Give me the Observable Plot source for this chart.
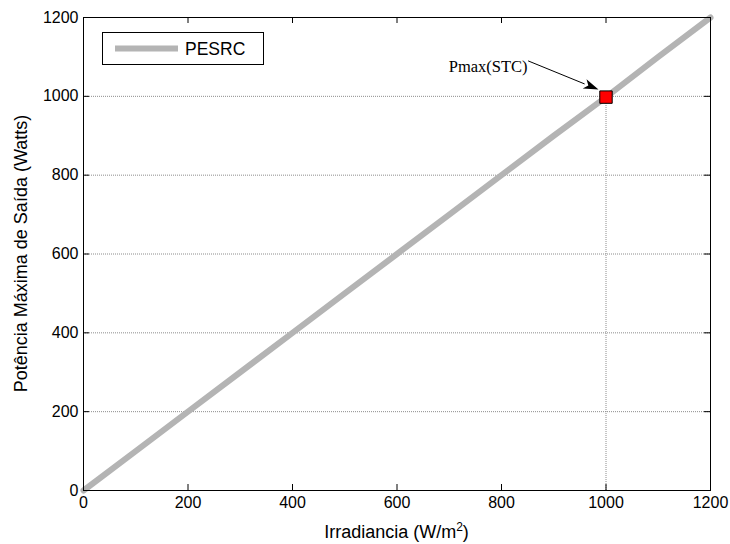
<!DOCTYPE html>
<html>
<head>
<meta charset="utf-8">
<script src="https://cdn.jsdelivr.net/npm/d3@7"></script>
<script src="https://cdn.jsdelivr.net/npm/@observablehq/plot@0.6"></script>
<style>
  html, body { margin: 0; padding: 0; background: #fff; }
  #chart { width: 730px; height: 544px; }
  svg { font-family: Arial, "Liberation Sans", sans-serif; }
</style>
</head>
<body>
<div id="chart"></div>
<script>
// Data
const irradiance = [0, 100, 200, 300, 340, 400, 500, 600, 700, 800, 900, 1000, 1100, 1200];
const power      = [0, 100, 200, 300, 340, 400, 500, 600, 700, 800, 900, 998, 1100, 1200];
const xTicks = [0, 200, 400, 600, 800, 1000, 1200];
const yTicks = [0, 200, 400, 600, 800, 1000, 1200];
const gridTicks = [200, 400, 600, 800, 1000];
const seriesName = "PESRC";
const stcPoint = [{x: 1000, y: 998}];
const annotationLabel = "Pmax(STC)";
const annotationText = [{x: 850, y: 1076}];
const xLabelParts = ["Irradiancia (W/m", "2", ")"];
const yLabel = "Potência Máxima de Saída (Watts)";

const data = irradiance.map((x, i) => ({x, y: power[i]}));
const plain = d => String(d);
const TK = 6;
const W = 730, H = 544, ML = 83, MR = 20, MT = 17, MB = 54;
const FW = W - ML - MR, FH = H - MT - MB;

const chart = Plot.plot({
  width: W,
  height: H,
  marginLeft: ML,
  marginRight: MR,
  marginTop: MT,
  marginBottom: MB,
  style: {fontSize: "16px", fontFamily: "Arial, 'Liberation Sans', sans-serif", color: "#000", background: "#fff"},
  x: {domain: [0, 1200]},
  y: {domain: [0, 1200]},
  marks: [
    Plot.ruleY(gridTicks, {stroke: "#8c8c8c", strokeWidth: 1, strokeDasharray: "1,1"}),
    Plot.ruleX(stcPoint, {x: "x", y1: 0, y2: "y", stroke: "#8c8c8c", strokeWidth: 1, strokeDasharray: "1,1"}),
    Plot.line(data, {x: "x", y: "y", stroke: "#b4b4b4", strokeWidth: 6}),
    Plot.frame({stroke: "#000", strokeWidth: 1}),
    // inward ticks
    Plot.tickX(xTicks, {x: d => d, insetTop: FH - TK, stroke: "#000", strokeWidth: 1}),
    Plot.tickX(xTicks, {x: d => d, insetBottom: FH - TK, stroke: "#000", strokeWidth: 1}),
    Plot.tickY(yTicks, {y: d => d, insetRight: FW - TK, stroke: "#000", strokeWidth: 1}),
    Plot.tickY(yTicks, {y: d => d, insetLeft: FW - TK, stroke: "#000", strokeWidth: 1}),
    Plot.axisX(xTicks, {anchor: "bottom", tickSize: 0, tickPadding: 6, tickFormat: plain, label: null, fontSize: 16}),
    Plot.axisY(yTicks, {anchor: "left", tickSize: 0, tickPadding: 5, tickFormat: plain, label: null, fontSize: 16}),
    Plot.text(annotationText, {x: "x", y: "y", text: () => annotationLabel, textAnchor: "end",
      fontFamily: "'Liberation Serif', 'Times New Roman', serif", fontSize: 16.5, fill: "#000"}),
    Plot.dot(stcPoint, {x: "x", y: "y", symbol: "square", r: 7, fill: "#ff0000", stroke: "#000", strokeWidth: 1})
  ]
});

document.getElementById("chart").appendChild(chart);

const svg = d3.select(chart);
const sx = chart.scale("x"), sy = chart.scale("y");
const [X0, X1] = [sx.apply(0), sx.apply(1200)];
const [Y0, Y1] = [sy.apply(0), sy.apply(1200)];

// axis titles
const xt = svg.append("text")
  .attr("x", (X0 + X1) / 2).attr("y", 538)
  .attr("text-anchor", "middle").attr("font-size", 18).attr("fill", "#000");
xt.append("tspan").text(xLabelParts[0]);
xt.append("tspan").attr("dy", -7).attr("font-size", 12).text(xLabelParts[1]);
xt.append("tspan").attr("dy", 7).text(xLabelParts[2]);
svg.append("text")
  .attr("transform", `translate(27,${(Y0 + Y1) / 2}) rotate(-90)`)
  .attr("text-anchor", "middle").attr("font-size", 18).attr("fill", "#000")
  .text(yLabel);

// annotation arrow
const ax0 = sx.apply(annotationText[0].x) + 1, ay0 = sy.apply(annotationText[0].y) - 5;
const ax1 = sx.apply(stcPoint[0].x) - 7, ay1 = sy.apply(stcPoint[0].y) - 7;
const ang = Math.atan2(ay1 - ay0, ax1 - ax0);
const L = 15, HW = 5;
const bx = ax1 - L * Math.cos(ang), by = ay1 - L * Math.sin(ang);
svg.append("line").attr("x1", ax0).attr("y1", ay0).attr("x2", bx).attr("y2", by)
  .attr("stroke", "#000").attr("stroke-width", 1);
svg.append("path")
  .attr("d", `M${ax1},${ay1}L${bx + HW * Math.sin(ang)},${by - HW * Math.cos(ang)}L${bx + 4 * Math.cos(ang)},${by + 4 * Math.sin(ang)}L${bx - HW * Math.sin(ang)},${by + HW * Math.cos(ang)}Z`)
  .attr("fill", "#000");

// legend
const lg = svg.append("g");
lg.append("rect").attr("x", 102.5).attr("y", 32.5).attr("width", 161).attr("height", 32)
  .attr("fill", "#fff").attr("stroke", "#000").attr("stroke-width", 1);
lg.append("line").attr("x1", 115).attr("x2", 178).attr("y1", 48.5).attr("y2", 48.5)
  .attr("stroke", "#b4b4b4").attr("stroke-width", 6);
lg.append("text").attr("x", 185).attr("y", 54.5).attr("text-anchor", "start")
  .attr("font-size", 17.5).attr("fill", "#000").text(seriesName);
</script>
</body>
</html>
